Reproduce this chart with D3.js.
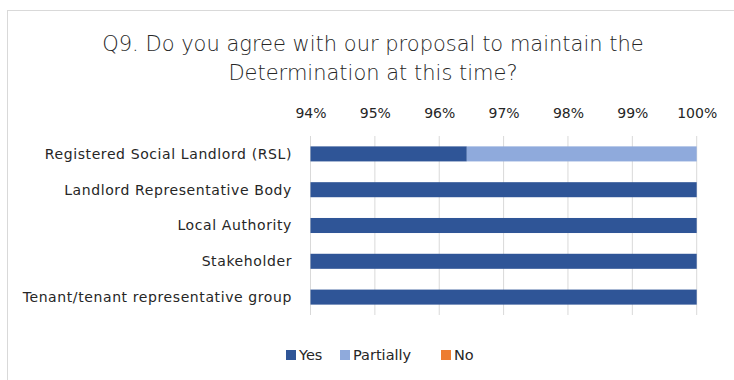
<!DOCTYPE html>
<html>
<head>
<meta charset="utf-8">
<script src="https://cdn.jsdelivr.net/npm/d3@7"></script>
<style>
  html, body { margin: 0; padding: 0; background: #fff; }
  svg { display: block; }
  text { font-family: "DejaVu Sans", sans-serif; fill: #262626; }
</style>
</head>
<body>
<svg id="chart" width="734" height="380"></svg>
<script>
// Survey responses by respondent group (share of responses)
const categories = [
  "Registered Social Landlord (RSL)",
  "Landlord Representative Body",
  "Local Authority",
  "Stakeholder",
  "Tenant/tenant representative group"
];
const yesValues       = [27 / 28, 1, 1, 1, 1];
const partiallyValues = [1 / 28, 0, 0, 0, 0];
const noValues        = [0, 0, 0, 0, 0];
const seriesNames  = ["Yes", "Partially", "No"];
const seriesColors = ["#2F5597", "#8FAADC", "#ED7D31"];
const tickValues   = [0.94, 0.95, 0.96, 0.97, 0.98, 0.99, 1.00];

const rows = categories.map((c, i) => ({
  category: c,
  Yes: yesValues[i],
  Partially: partiallyValues[i],
  No: noValues[i]
}));

const svg = d3.select("#chart");

// Chart frame
svg.append("rect")
  .attr("x", 7.5).attr("y", 10.5)
  .attr("width", 740).attr("height", 380)
  .attr("fill", "#fff")
  .attr("stroke", "#d9d9d9")
  .attr("stroke-width", 1);

// Title
const title = svg.append("text")
  .attr("text-anchor", "middle")
  .attr("font-size", 21)
  .attr("font-weight", 300);
title.append("tspan").attr("x", 373).attr("y", 51)
  .text("Q9. Do you agree with our proposal to maintain the");
title.append("tspan").attr("x", 373).attr("y", 80)
  .text("Determination at this time?");

const x = d3.scaleLinear().domain([0.94, 1.0]).range([310.5, 696.7]);
const y = d3.scaleBand().domain(categories).range([136, 315])
  .paddingInner(0.58).paddingOuter(0.29);

// Vertical gridlines
svg.append("g")
  .selectAll("line")
  .data(tickValues)
  .join("line")
  .attr("x1", d => x(d)).attr("x2", d => x(d))
  .attr("y1", 136).attr("y2", 315)
  .attr("stroke", "#d9d9d9")
  .attr("stroke-width", 1);

// Top axis with percentage labels
const axis = d3.axisTop(x)
  .tickValues(tickValues)
  .tickFormat(d3.format(".0%"))
  .tickSize(0)
  .tickPadding(0);
const gAxis = svg.append("g")
  .attr("transform", "translate(0,118)")
  .call(axis);
gAxis.select(".domain").remove();
gAxis.selectAll("text")
  .attr("font-size", 14)
  .attr("fill", "#404040")
  .attr("font-family", "DejaVu Sans, sans-serif")
  .attr("dy", 0);

// Category axis labels
svg.append("g")
  .selectAll("text")
  .data(categories)
  .join("text")
  .attr("x", 292)
  .attr("y", d => y(d) + y.bandwidth() / 2)
  .attr("dy", "0.35em")
  .attr("text-anchor", "end")
  .attr("font-size", 14)
  .attr("letter-spacing", 0.6)
  .attr("fill", "#404040")
  .text(d => d);

// Stacked bars
const stack = d3.stack().keys(seriesNames);
const stacked = stack(rows);
const clampX = v => x(Math.max(v, 0.94));

svg.append("g")
  .selectAll("g")
  .data(stacked)
  .join("g")
  .attr("fill", (d, i) => seriesColors[i])
  .selectAll("rect")
  .data(d => d.map(seg => ({ seg, cat: seg.data.category })))
  .join("rect")
  .attr("x", d => clampX(d.seg[0]))
  .attr("y", d => y(d.cat))
  .attr("width", d => Math.max(0, clampX(d.seg[1]) - clampX(d.seg[0])))
  .attr("height", y.bandwidth());

// Legend
const legendItems = [
  { name: "Yes", color: seriesColors[0], x: 286 },
  { name: "Partially", color: seriesColors[1], x: 340 },
  { name: "No", color: seriesColors[2], x: 441 }
];
const legend = svg.append("g");
legendItems.forEach(item => {
  legend.append("rect")
    .attr("x", item.x).attr("y", 350)
    .attr("width", 10).attr("height", 10)
    .attr("fill", item.color);
  legend.append("text")
    .attr("x", item.x + 13).attr("y", 355)
    .attr("dy", "0.35em")
    .attr("font-size", 14.5)
    .attr("fill", "#404040")
    .text(item.name);
});
</script>
</body>
</html>
